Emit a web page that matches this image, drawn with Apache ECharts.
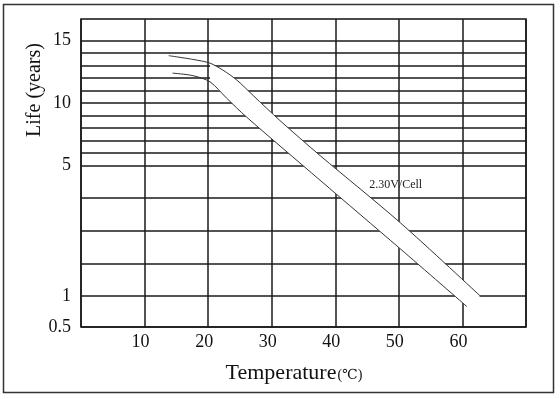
<!DOCTYPE html>
<html>
<head>
<meta charset="utf-8">
<style>
  html, body { margin: 0; padding: 0; background: #fff; }
  #chart { width: 560px; height: 399px; }
</style>
<script src="https://cdn.jsdelivr.net/npm/echarts@6/dist/echarts.min.js"></script>
</head>
<body>
<div id="chart"></div>
<script>
  // temperature axis
  var tempLabels = [10, 20, 30, 40, 50, 60]

  // life axis: grid lines and the labelled ones
  var lifeTicks = [0.5, 1, 2, 3, 4, 5, 6, 7, 8, 9, 10, 11, 12, 13, 14, 15]
  var lifeLabels = [0.5, 1, 5, 10, 15]

  // upper edge of the 2.30V/Cell band
  var upperTemp = [13.8, 17.6, 20.3, 22.3, 24.5, 27.1, 31.3, 37.6, 50.2, 62.8]
  var upperLife = [13.8, 13.5, 13.2, 12.65, 11.85, 10.6, 8.6, 5.8, 3.25, 1.0]

  // lower edge of the band
  var lowerTemp = [14.4, 17.6, 20.3, 22.9, 26.0, 37.6, 50.2, 60.7]
  var lowerLife = [12.4, 12.2, 11.7, 10.4, 8.9, 4.55, 2.45, 0.83]

  var noteText = '2.30V/Cell'
  var noteTemp = 49.5
  var noteLife = 4.42

  // the printed life scale is piecewise: 0.5-1, 1-5, 5-15 each have their own step
  var lifeBreaks = [0.5, 1, 5, 15]
  var axisBreaks = [0, 31, 161.5, 286.3]
  var axisTop = 308

  function toAxis(v) {
    for (var i = 1; i < lifeBreaks.length; i++) {
      if (v <= lifeBreaks[i] || i === lifeBreaks.length - 1) {
        var t = (v - lifeBreaks[i - 1]) / (lifeBreaks[i] - lifeBreaks[i - 1])
        return axisBreaks[i - 1] + t * (axisBreaks[i] - axisBreaks[i - 1])
      }
    }
  }
  function fromAxis(p) {
    for (var i = 1; i < axisBreaks.length; i++) {
      if (p <= axisBreaks[i] + 0.01 || i === axisBreaks.length - 1) {
        var t = (p - axisBreaks[i - 1]) / (axisBreaks[i] - axisBreaks[i - 1])
        return lifeBreaks[i - 1] + t * (lifeBreaks[i] - lifeBreaks[i - 1])
      }
    }
  }

  function pairs(xs, ys) {
    return xs.map(function (x, i) { return [x, toAxis(ys[i])] })
  }

  var upperPts = pairs(upperTemp, upperLife)
  var lowerPts = pairs(lowerTemp, lowerLife)
  // white band between the curves (starts at 20 ℃ like the print)
  var bandPts = upperPts.filter(function (p) { return p[0] >= 20 })
    .concat(lowerPts.filter(function (p) { return p[0] >= 20 }).reverse())

  var serif = '"Liberation Serif", "DejaVu Serif", serif'
  var gridLine = { show: true, lineStyle: { color: '#1a1a1a', width: 1.5 } }

  var chart = echarts.init(document.getElementById('chart'))
  chart.setOption({
    animation: false,
    backgroundColor: '#fff',
    grid: {
      left: 81, right: 34, top: 19, bottom: 72,
      show: true, borderColor: '#111', borderWidth: 1.5
    },
    xAxis: {
      type: 'value',
      min: 0,
      max: 70,
      interval: 10,
      axisLine: { show: false },
      axisTick: { show: false },
      splitLine: gridLine,
      axisLabel: {
        margin: 6,
        padding: [0, 8, 0, 0],
        fontFamily: serif,
        fontSize: 18,
        color: '#111',
        formatter: function (v) {
          return tempLabels.indexOf(v) >= 0 ? String(v) : ''
        }
      },
      name: 'Temperature{u|(℃)}',
      nameLocation: 'middle',
      nameGap: 35,
      nameTextStyle: {
        fontFamily: serif,
        fontSize: 22,
        color: '#111',
        padding: [0, 19, 0, 0],
        rich: { u: { fontFamily: serif, fontSize: 14, color: '#111', padding: [4, 0, 0, 1] } }
      }
    },
    yAxis: {
      type: 'value',
      min: 0,
      max: axisTop,
      axisLine: { show: false },
      axisTick: { show: false, customValues: lifeTicks.map(toAxis) },
      splitLine: gridLine,
      axisLabel: {
        customValues: lifeLabels.map(toAxis),
        margin: 10,
        fontFamily: serif,
        fontSize: 18,
        color: '#111',
        formatter: function (p) {
          var v = Math.round(fromAxis(p) * 10) / 10
          return String(v)
        }
      }
    },
    graphic: [
      {
        type: 'rect',
        shape: { x: 3.5, y: 4.5, width: 550, height: 388 },
        style: { fill: 'none', stroke: '#333', lineWidth: 1.5 },
        silent: true
      },
      {
        type: 'text',
        x: 35,
        y: 90,
        rotation: Math.PI / 2,
        style: {
          text: 'Life (years)',
          fontFamily: serif,
          fontSize: 20,
          fill: '#111',
          align: 'center',
          verticalAlign: 'middle'
        }
      }
    ],
    series: [
      {
        type: 'custom',
        z: 1,
        data: [[0, 0]],
        renderItem: function (params, api) {
          return {
            type: 'polygon',
            shape: { points: bandPts.map(function (p) { return api.coord(p) }) },
            style: { fill: '#fff', stroke: null }
          }
        },
        silent: true
      },
      {
        type: 'line',
        z: 3,
        data: upperPts,
        smooth: 0.3,
        symbol: 'none',
        lineStyle: { color: '#333', width: 1 },
        markPoint: {
          symbol: 'rect',
          symbolSize: 1,
          itemStyle: { color: 'rgba(0,0,0,0)' },
          label: {
            show: true,
            position: 'inside',
            formatter: noteText,
            fontFamily: serif,
            fontSize: 12,
            color: '#222'
          },
          data: [{ coord: [noteTemp, toAxis(noteLife)] }]
        }
      },
      {
        type: 'line',
        z: 3,
        data: lowerPts,
        smooth: 0.3,
        symbol: 'none',
        lineStyle: { color: '#333', width: 1 }
      }
    ]
  })
</script>
</body>
</html>
